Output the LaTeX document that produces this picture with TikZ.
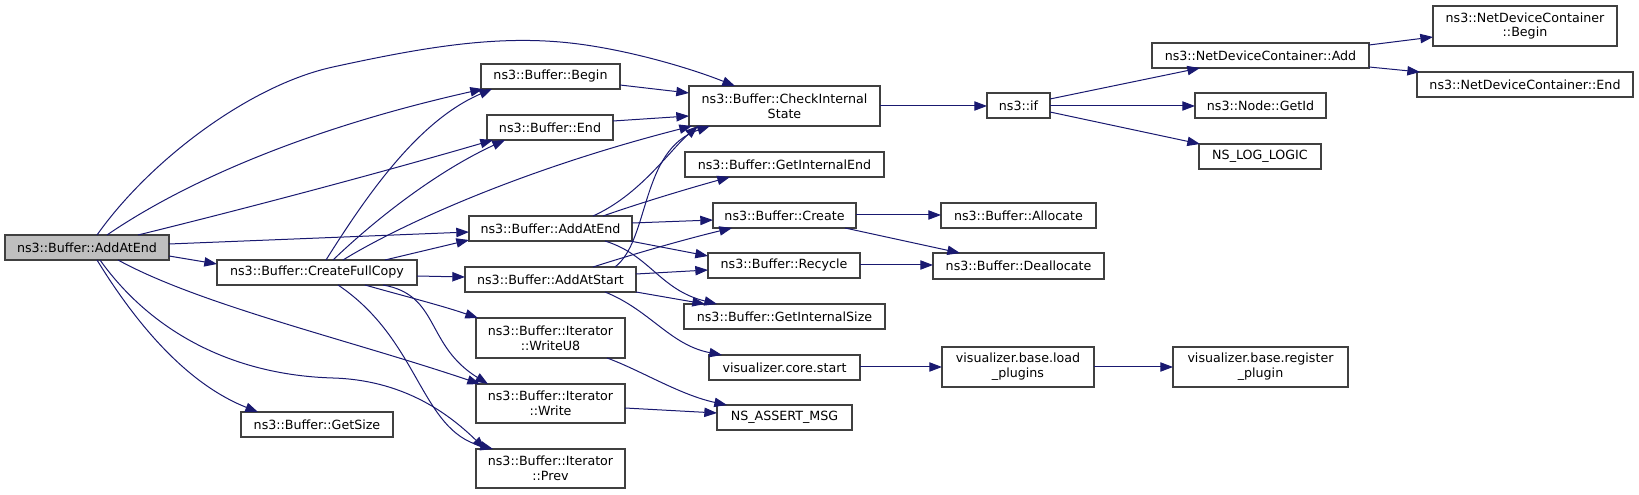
\documentclass[tikz,border=0pt]{standalone}
\usepackage{fontspec}
\setmainfont{DejaVu Sans}
\usetikzlibrary{arrows.meta,calc}
\definecolor{edgec}{HTML}{191970}
\definecolor{bord}{HTML}{404040}
\definecolor{mainfill}{HTML}{BFBFBF}
\newcommand\bx[7][]{\node[box,#1,minimum width={(#4-#2)*0.75pt},minimum height={(#5-#3)*0.75pt}] (#6) at ({(#2+#4)/2},{(#3+#5)/2}) {#7};}
\tikzset{
  box/.style={draw=bord,line width=1pt,fill=white,inner sep=0pt,outer sep=0pt,align=center,
    font=\fontsize{9.5}{11}\selectfont},
  edge/.style={draw=edgec,line width=0.75pt,-{Triangle[length=9.5pt,width=7pt]},edgec}
}
\begin{document}
\begin{tikzpicture}[x=0.75pt,y=-0.75pt]
\useasboundingbox (0,0) rectangle (1639,495);
% nodes: x1 y1 x2 y2
\bx[fill=mainfill]{5}{235}{169}{260}{M}{ns3::Buffer::AddAtEnd}
\bx{217}{260}{417}{285}{CFC}{ns3::Buffer::CreateFullCopy}
\bx{241}{412}{393}{437}{GS}{ns3::Buffer::GetSize}
\bx{481}{64}{620}{89}{Begin}{ns3::Buffer::Begin}
\bx{487}{115}{613}{140}{End}{ns3::Buffer::End}
\bx{689}{86}{880}{126}{CIS}{ns3::Buffer::CheckInternal\\State}
\bx{685}{152}{884}{177}{GIE}{ns3::Buffer::GetInternalEnd}
\bx{469}{216}{632}{241}{BAE}{ns3::Buffer::AddAtEnd}
\bx{713}{203}{856}{228}{Create}{ns3::Buffer::Create}
\bx{708}{253}{860}{278}{Recycle}{ns3::Buffer::Recycle}
\bx{465}{267}{636}{292}{AAS}{ns3::Buffer::AddAtStart}
\bx{684}{304}{885}{329}{GIS}{ns3::Buffer::GetInternalSize}
\bx{476}{318}{625}{358}{WU8}{ns3::Buffer::Iterator\\::WriteU8}
\bx{709}{355}{860}{380}{VCS}{visualizer.core.start}
\bx{476}{384}{625}{423}{Write}{ns3::Buffer::Iterator\\::Write}
\bx{717}{405}{852}{430}{NAM}{NS\_ASSERT\_MSG}
\bx{476}{449}{625}{488}{Prev}{ns3::Buffer::Iterator\\::Prev}
\bx{987}{93}{1050}{118}{If}{ns3::if}
\bx{1152}{43}{1369}{68}{NDA}{ns3::NetDeviceContainer::Add}
\bx{1195}{93}{1326}{118}{GetId}{ns3::Node::GetId}
\bx{1199}{144}{1321}{169}{NLL}{NS\_LOG\_LOGIC}
\bx{941}{203}{1096}{228}{Alloc}{ns3::Buffer::Allocate}
\bx{933}{253}{1104}{279}{Dealloc}{ns3::Buffer::Deallocate}
\bx{942}{347}{1094}{387}{VLP}{visualizer.base.load\\\_plugins}
\bx{1173}{347}{1348}{387}{VRP}{visualizer.base.register\\\_plugin}
\bx{1433}{6}{1617}{46}{NDB}{ns3::NetDeviceContainer\\::Begin}
\bx{1417}{72}{1633}{97}{NDE}{ns3::NetDeviceContainer::End}
% edges from main
\draw[edge] ($(M.north west)+(92,0)$) .. controls (150,160) and (250,85) .. (333,67) .. controls (420,48) and (490,36) .. (560,42) .. controls (620,47) and (690,68) .. ($(CIS.north west)+(46,0)$);
\draw[edge] ($(M.north west)+(102,0)$) .. controls (180,185) and (300,130) .. ($(Begin.north west)+(2,25)$);
\draw[edge] ($(M.north west)+(133,0)$) .. controls (260,205) and (390,170) .. ($(End.north west)+(6,25)$);
\draw[edge] ($(M.north west)+(164,9)$) -- ($(BAE.north west)+(0,16)$);
\draw[edge] ($(M.north west)+(164,21)$) -- ($(CFC.north west)+(0,4)$);
\draw[edge] ($(M.north west)+(113,25)$) .. controls (200,305) and (350,340) .. ($(Write.north west)+(4,0)$);
\draw[edge] ($(M.north west)+(95,25)$) .. controls (150,330) and (230,375) .. (333,378) .. controls (400,380) and (445,410) .. ($(Prev.north west)+(9,0)$);
\draw[edge] ($(M.north west)+(92,25)$) .. controls (140,330) and (190,385) .. ($(GS.north west)+(17,0)$);
% edges from CreateFullCopy
\draw[edge] ($(CFC.north west)+(109,0)$) .. controls (370,190) and (420,120) .. ($(Begin.north west)+(11,25)$);
\draw[edge] ($(CFC.north west)+(116,0)$) .. controls (380,215) and (440,170) .. ($(End.north west)+(18,25)$);
\draw[edge] ($(CFC.north west)+(126,0)$) .. controls (400,225) and (520,170) .. ($(CIS.north west)+(3,40)$);
\draw[edge] ($(CFC.north west)+(168,0)$) -- ($(BAE.north west)+(0,24)$);
\draw[edge] ($(CFC.north west)+(200,16)$) -- ($(AAS.north west)+(0,10)$);
\draw[edge] ($(CFC.north west)+(148,25)$) .. controls (400,295) and (440,305) .. ($(WU8.north west)+(2,0)$);
\draw[edge] ($(CFC.north west)+(166,25)$) .. controls (440,295) and (425,345) .. ($(Write.north west)+(12,0)$);
\draw[edge] ($(CFC.north west)+(121,25)$) .. controls (420,340) and (420,430) .. ($(Prev.north west)+(17,0)$);
% edges from Buffer::AddAtEnd
\draw[edge] ($(BAE.north west)+(124,0)$) .. controls (640,195) and (670,150) .. ($(CIS.north west)+(9,40)$);
\draw[edge] ($(BAE.north west)+(134,0)$) .. controls (640,203) and (690,188) .. ($(GIE.north west)+(45,25)$);
\draw[edge] ($(BAE.north west)+(163,7)$) -- ($(Create.north west)+(0,17)$);
\draw[edge] ($(BAE.north west)+(161,25)$) -- ($(Recycle.north west)+(0,3)$);
\draw[edge] ($(BAE.north west)+(136,25)$) .. controls (650,255) and (660,290) .. ($(GIS.north west)+(33,0)$);
% edges from AddAtStart
\draw[edge] ($(AAS.north west)+(150,0)$) .. controls (650,240) and (640,150) .. ($(CIS.north west)+(21,40)$);
\draw[edge] ($(AAS.north west)+(128,0)$) .. controls (640,252) and (690,238) .. ($(Create.north west)+(19,25)$);
\draw[edge] ($(AAS.north west)+(171,7)$) -- ($(Recycle.north west)+(0,17)$);
\draw[edge] ($(AAS.north west)+(171,25)$) -- ($(GIS.north west)+(21,0)$);
\draw[edge] ($(AAS.north west)+(140,25)$) .. controls (650,310) and (670,345) .. ($(VCS.north west)+(13,0)$);
% others
\draw[edge] ($(WU8.north west)+(131,40)$) .. controls (640,370) and (680,395) .. ($(NAM.north west)+(10,0)$);
\draw[edge] ($(Write.north west)+(149,24)$) -- ($(NAM.north west)+(0,8)$);
\draw[edge] ($(Create.north west)+(143,12)$) -- ($(Alloc.north west)+(0,12)$);
\draw[edge] ($(Create.north west)+(132,25)$) -- ($(Dealloc.north west)+(27,0)$);
\draw[edge] ($(Recycle.north west)+(152,12)$) -- ($(Dealloc.north west)+(0,12)$);
\draw[edge] ($(CIS.north west)+(191,20)$) -- ($(If.north west)+(0,13)$);
\draw[edge] ($(If.north west)+(63,6)$) -- ($(NDA.north west)+(48,25)$);
\draw[edge] ($(If.north west)+(63,13)$) -- ($(GetId.north west)+(0,13)$);
\draw[edge] ($(If.north west)+(63,19)$) -- ($(NLL.north west)+(1,0)$);
\draw[edge] ($(NDA.north west)+(217,2)$) -- ($(NDB.north west)+(0,31)$);
\draw[edge] ($(NDA.north west)+(217,24)$) -- ($(NDE.north west)+(3,0)$);
\draw[edge] ($(VCS.north west)+(151,12)$) -- ($(VLP.north west)+(0,20)$);
\draw[edge] ($(VLP.north west)+(152,20)$) -- ($(VRP.north west)+(0,20)$);
\draw[edge] ($(Begin.north west)+(139,21)$) -- ($(CIS.north west)+(0,7)$);
\draw[edge] ($(End.north west)+(126,6)$) -- ($(CIS.north west)+(0,30)$);
\end{tikzpicture}
\end{document}
